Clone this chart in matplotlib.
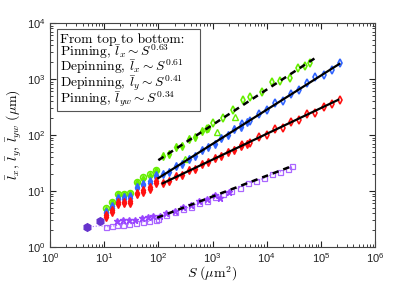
import matplotlib
matplotlib.use("Agg")
import matplotlib.pyplot as plt
from matplotlib.patches import Rectangle

plt.rcParams['font.family'] = ['Liberation Sans', 'DejaVu Sans']
plt.rcParams['mathtext.fontset'] = 'cm'
plt.rcParams['axes.formatter.use_mathtext'] = True

# shared first points (all quantities coincide)
s_first = [4.8, 8.4]
l_first = [2.25, 2.9]

# small-S columns (filled diamonds)
s_small = [10.7, 13.8, 17.8, 23.4, 30.2, 40.7, 52.5, 70.8, 91.2]
green_small = [4.6, 6.0, 8.5, 8.5, 8.7, 13.8, 16.6, 18.6, 22.4]
blue_small = [4.0, 5.0, 7.1, 7.2, 7.6, 11.2, 12.6, 14.1, 17.8]
red_small = [3.4, 4.3, 5.8, 6.0, 6.2, 8.7, 9.5, 11.0, 13.8]

# pinning l_x (green)
green_s_fill = [120, 158, 209, 275, 363, 479, 631, 832]
green_l_fill = [41.7, 45.7, 60.3, 64.6, 85.1, 91.2, 120, 132]
green_s_open = [794, 1023, 1549, 2399, 3631, 4898, 8128, 12589, 17783, 26915, 38019, 50119, 63096]
green_l_open = [126, 162, 200, 275, 417, 468, 575, 871, 933, 1023, 1549, 1738, 1905]
green_s_tri = [309, 1202, 2630]
green_l_tri = [38, 112, 209]

# depinning l_x (blue) and l_y (red)
mid_s_fill = [120, 158, 209, 275, 363, 479, 631, 832, 1096, 1445, 1905, 2512, 3311, 4365]
blue_l_fill = [20.0, 21.9, 27.5, 30.9, 38.0, 41.7, 53.7, 60.3, 69.2, 89.1, 100, 126, 141, 174]
red_l_fill = [13.8, 15.1, 18.2, 19.5, 23.4, 25.1, 30.2, 32.4, 38.9, 41.7, 50.1, 53.7, 64.6, 69.2]
mid_s_open = [3548, 5012, 7079, 10000, 14125, 19953, 28184, 39811, 56234, 79433, 112202, 158489, 223872]
blue_l_open = [155, 178, 240, 275, 372, 407, 550, 631, 851, 1096, 1202, 1445, 1950]
red_l_open = [66.1, 72.4, 91.2, 100, 126, 135, 170, 186, 234, 251, 316, 355, 417]

# pinning l_yw (purple)
purple_s_sq = [10.7, 13.8, 17.4, 22.4, 28.8, 38.9, 52.5, 67.6, 91.2,
               100, 141, 200, 282, 398, 562, 794, 1122, 1585, 2239, 3162,
               4467, 6310, 8913, 12589, 17783, 25119, 29512]
purple_l_sq = [2.29, 2.34, 2.45, 2.51, 2.57, 2.69, 2.82, 2.88, 3.09,
               3.16, 3.72, 4.17, 4.79, 5.25, 6.17, 6.76, 7.94, 8.91, 10.2, 11.5,
               13.8, 15.1, 17.0, 20.0, 21.9, 25.1, 28.2]
purple_s_star = [17.4, 22.4, 28.8, 37.2, 50.1, 64.6, 79.4, 107, 141, 200, 282, 398, 562, 794, 1122, 1380, 1995]
purple_l_star = [2.88, 3.02, 3.09, 3.09, 3.24, 3.47, 3.55, 3.55, 3.98, 4.47, 5.13, 5.62, 6.61, 7.24, 8.51, 7.41, 9.77]

# power-law fits: (S start, S end, prefactor at S=100, exponent as drawn)
fit_green = (100, 80000, 35.5, 0.63)
fit_blue = (100, 220000, 17.0, 0.61)
fit_red = (120, 210000, 12.6, 0.46)
fit_purple = (95, 29000, 3.4, 0.37)

legend_lines = ['From top to bottom:',
                r'Pinning, $\bar{l}_x \sim S^{0.63}$',
                r'Depinning, $\bar{l}_x \sim S^{0.61}$',
                r'Depinning, $\bar{l}_y \sim S^{0.41}$',
                r'Pinning, $\bar{l}_{yw} \sim S^{0.34}$']

green = '#66ee00'
blue = '#3366ff'
red = '#ff1111'
purple = '#aa66ff'
purple_dark = '#9944ff'

fig = plt.figure(figsize=(4.15, 2.91), dpi=100)
ax = fig.add_axes([0.1205, 0.1512, 0.7831, 0.7698])
ax.set_xscale('log')
ax.set_yscale('log')

ms = 4.2
# green
ax.plot(s_small, green_small, 'd', color=green, ms=ms)
ax.plot(s_small, [v * 1.06 for v in green_small], 'o', mfc='none', mec=green, ms=ms, mew=1.2)
ax.plot(green_s_fill, green_l_fill, 'd', color=green, ms=ms)
ax.plot(green_s_open, green_l_open, 'd', mfc='none', mec=green, ms=ms, mew=1.2)
ax.plot(green_s_tri, green_l_tri, '^', mfc='none', mec=green, ms=ms, mew=1.0)
# blue
ax.plot(s_small, blue_small, 'd', color=blue, ms=ms)
ax.plot(s_small, [v * 1.07 for v in blue_small], 'd', color=blue, ms=ms)
ax.plot(mid_s_fill, blue_l_fill, 'd', color=blue, ms=ms)
ax.plot(mid_s_open, blue_l_open, 'd', mfc='none', mec=blue, ms=ms, mew=1.2)
# red
ax.plot(s_small, red_small, 'd', color=red, ms=ms)
ax.plot(s_small, [v * 1.08 for v in red_small], 'd', color=red, ms=ms)
ax.plot(mid_s_fill, red_l_fill, 'd', color=red, ms=ms)
ax.plot(mid_s_open, red_l_open, 'd', mfc='none', mec=red, ms=ms, mew=1.2)
# purple
ax.plot(s_first + purple_s_sq, l_first[:1] + [2.4] + purple_l_sq, ':', color=purple, lw=0.8)
ax.plot(purple_s_sq, purple_l_sq, 's', mfc='none', mec=purple, ms=3.6, mew=0.9)
ax.plot(purple_s_star, purple_l_star, '*', color=purple_dark, ms=4.5)
ax.plot(s_first, l_first, 'h', color='#6633cc', ms=5.5)

for s0, s1, c, a, ls in [(*fit_green, '--'), (*fit_blue, '-'), (*fit_red, '-'), (*fit_purple, '--')]:
    xs = [s0, s1]
    ys = [c * (x / 100.0) ** a for x in xs]
    if ls == '--':
        ax.plot(xs, ys, color='k', lw=1.8, dashes=(2.5, 2))
    else:
        ax.plot(xs, ys, color='k', lw=1.6)

ax.set_xlim(1, 1e6)
ax.set_ylim(1, 1e4)
ax.tick_params(which='both', direction='in', top=True, right=True, labelsize=8, colors='#222222')
ax.tick_params(which='major', length=4, pad=3)
ax.tick_params(which='minor', length=2)
for sp in ax.spines.values():
    sp.set_color('#444444')
    sp.set_linewidth(0.8)

ax.set_xlabel(r'$S\ (\mu\mathrm{m}^2)$', fontsize=10, labelpad=0)
ax.set_ylabel(r'$\bar{l}_x,\,\bar{l}_y,\,\bar{l}_{yw}\ (\mu\mathrm{m})$', fontsize=10, labelpad=2)

# legend box
ax.add_patch(Rectangle((0.022, 0.607), 0.44, 0.366, transform=ax.transAxes,
                       fill=True, fc='white', ec='#555555', lw=0.8, zorder=5))
ax.text(0.032, 0.785, '\n'.join(legend_lines), transform=ax.transAxes, fontsize=9.8,
        family='cmr10', va='center', ha='left', linespacing=0.76, zorder=6)

fig.savefig('out.png', dpi=100)
